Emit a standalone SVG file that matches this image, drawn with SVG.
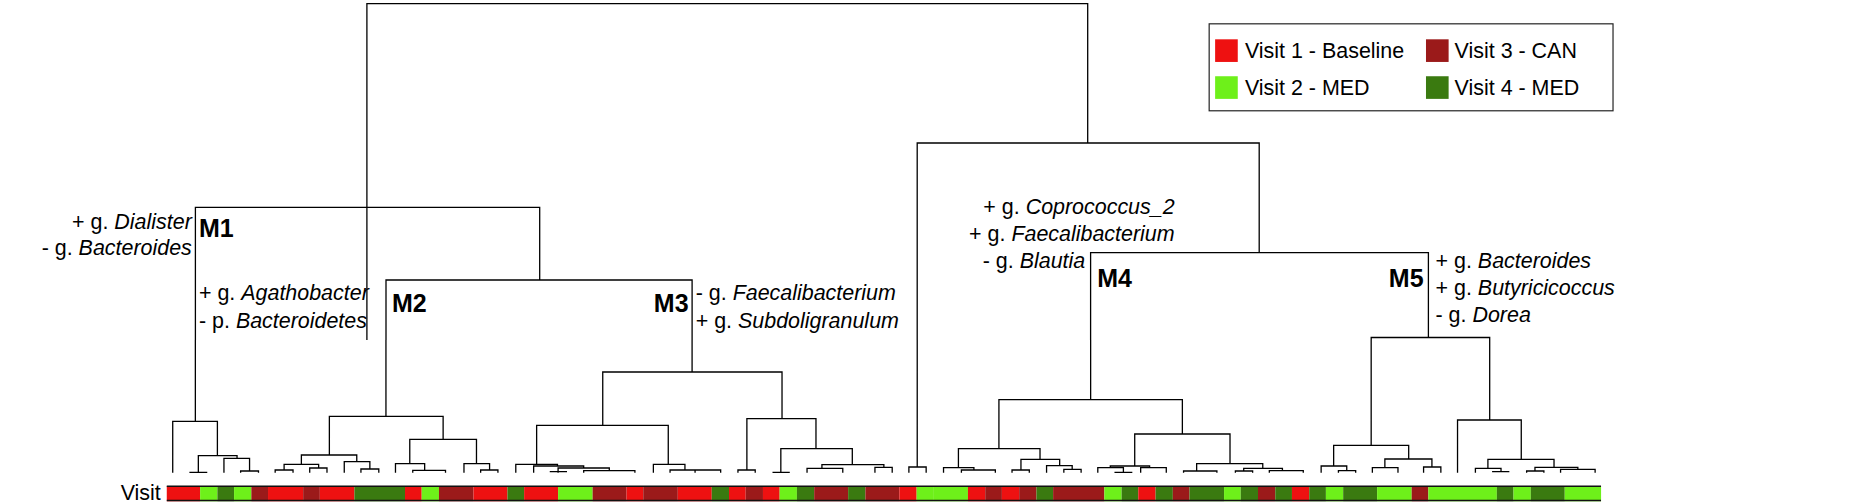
<svg xmlns="http://www.w3.org/2000/svg" width="1868" height="502" viewBox="0 0 1868 502">
<style>
.ln{fill:none;stroke:#000;stroke-width:1.3;vector-effect:non-scaling-stroke}
text{font-family:"Liberation Sans",Arial,sans-serif;fill:#000}
.lb{font-size:18px}
.m{font-size:21px;font-weight:bold}
.R{fill:#ee1111}.D{fill:#9b1a1a}.L{fill:#6ef01a}.G{fill:#3a7a10}
</style>
<rect width="1868" height="502" fill="#fff"/>
<g id="connectors">
<path class="ln" d="M366.9,340V3.6H1087.7V143 M917.2,340V143H1259.2V252.6 M1090.6,340V252.6H1428.4V337.5 M1371.2,340V337.5H1489.7V340 M366.9,3.6V207.3 M195.4,340V207.3H539.7V280 M386,340V280H692.1V340"/>
<g transform="translate(0,340) scale(0.5956,0.3333)">
<path class="ln" d="M328,0V244 M290,398V244H365V347 M333,398V347H398V355 M318,397H348 M376,398V355H419V393 M404,398V393H434V398
M648,0V229 M553,345V229H744V298 M506,373V345H599V365 M477,390V373H535V384 M462,398V390H492V398 M520,398V384H549V398 M578,398V365H621V387 M606,398V387H636V398
M688,371V298H800V371 M664,398V371H713V391 M693,398V391H748V398 M779,398V371H822V390 M807,398V390H836V398
M1162,0V96 M1012,256V96H1313V236 M901,373V256H1122V373 M866,398V373H936V378 M896,398V378H980V384 M937,398V384H1023V392 M923,395H952 M980,398V392H1066V398
M1097,398V373H1150V390 M1125,398V390H1210V398 M1167,390V398
M1254,390V236H1370V326 M1239,398V390H1268V398 M1311,398V326H1431V374 M1297,397H1326 M1380,385V374H1484V382 M1355,398V385H1415V398 M1469,398V382H1498V398
M1540,0V381 M1526,398V381H1555V398"/>
</g>
<g transform="translate(934,340) scale(0.5956,0.3333)">
<path class="ln" d="M263,0V179 M109,326V179H417V282 M41,383V326H178V358 M16,398V383H67V390 M46,398V390H103V398 M146,390V358H211V377 M131,398V390H160V398 M189,398V377H232V388 M218,398V388H247V398
M337,378V282H497V371 M296,383V378H362V383 M275,398V383H318V398 M303,397H333 M347,398V383H390V398
M441,393V371H552V385 M419,398V393H475V398 M520,393V385H585V392 M506,398V393H535V398 M563,398V392H620V398
M734,0V316 M671,378V316H797V357 M650,398V378H693V392 M679,398V392H708V398 M757,383V357H836V381 M736,398V383H779V398 M822,398V381H851V398
M933,0V240 M879,398V240H986V358 M930,385V358H1041V382 M909,398V385H952V395 M937,395H966 M1009,393V382H1081V388 M995,398V393H1024V398 M1052,398V388H1110V398"/>
</g>
</g>
<g id="visit-bar">
<g transform="translate(0,340) scale(0.5956,0.3333)">
<rect class="R" x="280" y="438" width="56" height="46"/><rect class="L" x="336" y="438" width="29" height="46"/><rect class="G" x="365" y="438" width="28" height="46"/><rect class="L" x="393" y="438" width="29" height="46"/><rect class="D" x="422" y="438" width="28" height="46"/><rect class="R" x="450" y="438" width="59" height="46"/><rect class="D" x="509" y="438" width="28" height="46"/><rect class="R" x="537" y="438" width="58" height="46"/><rect class="G" x="595" y="438" width="85" height="46"/><rect class="R" x="680" y="438" width="28" height="46"/><rect class="L" x="708" y="438" width="29" height="46"/><rect class="D" x="737" y="438" width="58" height="46"/><rect class="R" x="795" y="438" width="57" height="46"/><rect class="G" x="852" y="438" width="28" height="46"/><rect class="R" x="880" y="438" width="57" height="46"/><rect class="L" x="937" y="438" width="58" height="46"/><rect class="D" x="995" y="438" width="57" height="46"/><rect class="R" x="1052" y="438" width="28" height="46"/><rect class="D" x="1080" y="438" width="58" height="46"/><rect class="R" x="1138" y="438" width="57" height="46"/><rect class="G" x="1195" y="438" width="29" height="46"/><rect class="R" x="1224" y="438" width="28" height="46"/><rect class="D" x="1252" y="438" width="29" height="46"/><rect class="R" x="1281" y="438" width="28" height="46"/><rect class="L" x="1309" y="438" width="29" height="46"/><rect class="G" x="1338" y="438" width="29" height="46"/><rect class="D" x="1367" y="438" width="57" height="46"/><rect class="G" x="1424" y="438" width="29" height="46"/><rect class="D" x="1453" y="438" width="57" height="46"/><rect class="R" x="1510" y="438" width="29" height="46"/><rect class="L" x="1539" y="438" width="29" height="46"/>
</g>
<g transform="translate(934,340) scale(0.5956,0.3333)">
<rect class="L" x="0" y="438" width="57" height="46"/><rect class="R" x="57" y="438" width="29" height="46"/><rect class="D" x="86" y="438" width="28" height="46"/><rect class="R" x="114" y="438" width="29" height="46"/><rect class="D" x="143" y="438" width="29" height="46"/><rect class="G" x="172" y="438" width="28" height="46"/><rect class="D" x="200" y="438" width="86" height="46"/><rect class="L" x="286" y="438" width="29" height="46"/><rect class="G" x="315" y="438" width="28" height="46"/><rect class="R" x="343" y="438" width="29" height="46"/><rect class="G" x="372" y="438" width="29" height="46"/><rect class="D" x="401" y="438" width="28" height="46"/><rect class="G" x="429" y="438" width="58" height="46"/><rect class="L" x="487" y="438" width="28" height="46"/><rect class="G" x="515" y="438" width="29" height="46"/><rect class="D" x="544" y="438" width="29" height="46"/><rect class="G" x="573" y="438" width="28" height="46"/><rect class="R" x="601" y="438" width="29" height="46"/><rect class="G" x="630" y="438" width="28" height="46"/><rect class="L" x="658" y="438" width="29" height="46"/><rect class="G" x="687" y="438" width="57" height="46"/><rect class="L" x="744" y="438" width="58" height="46"/><rect class="D" x="802" y="438" width="28" height="46"/><rect class="L" x="830" y="438" width="115" height="46"/><rect class="G" x="945" y="438" width="28" height="46"/><rect class="L" x="973" y="438" width="29" height="46"/><rect class="G" x="1002" y="438" width="57" height="46"/><rect class="L" x="1059" y="438" width="61" height="46"/>
</g>
<path d="M166.8,486.2H1601 M166.8,500.5H1601" stroke="#111" stroke-width="1.5"/>
</g>
<g transform="scale(1.1913)">
<g id="label-visit"><text class="lb" x="135" y="420" text-anchor="end">Visit</text></g>
<g id="M1"><text class="m" x="167" y="199">M1</text>
<text class="lb" x="161" y="192" text-anchor="end">+ g. <tspan font-style="italic">Dialister</tspan></text>
<text class="lb" x="161" y="214" text-anchor="end">- g. <tspan font-style="italic">Bacteroides</tspan></text></g>
<g id="M2"><text class="m" x="329" y="262">M2</text>
<text class="lb" x="167" y="252">+ g. <tspan font-style="italic">Agathobacter</tspan></text>
<text class="lb" x="167" y="275">- p. <tspan font-style="italic">Bacteroidetes</tspan></text></g>
<g id="M3"><text class="m" x="578" y="262" text-anchor="end">M3</text>
<text class="lb" x="584" y="252">- g. <tspan font-style="italic">Faecalibacterium</tspan></text>
<text class="lb" x="584" y="275">+ g. <tspan font-style="italic">Subdoligranulum</tspan></text></g>
<g id="M4"><text class="m" x="921" y="241">M4</text>
<text class="lb" x="986" y="180" text-anchor="end">+ g. <tspan font-style="italic">Coprococcus_2</tspan></text>
<text class="lb" x="986" y="202" text-anchor="end">+ g. <tspan font-style="italic">Faecalibacterium</tspan></text>
<text class="lb" x="911" y="225" text-anchor="end">- g. <tspan font-style="italic">Blautia</tspan></text></g>
<g id="M5"><text class="m" x="1195" y="241" text-anchor="end">M5</text>
<text class="lb" x="1205" y="225">+ g. <tspan font-style="italic">Bacteroides</tspan></text>
<text class="lb" x="1205" y="248">+ g. <tspan font-style="italic">Butyricicoccus</tspan></text>
<text class="lb" x="1205" y="270">- g. <tspan font-style="italic">Dorea</tspan></text></g>
<g id="legend">
<rect x="1015" y="20" width="339" height="73" fill="#fff" stroke="#222" stroke-width="1"/>
<rect class="R" x="1020" y="33" width="19" height="19"/><text class="lb" x="1045" y="49">Visit 1 - Baseline</text>
<rect class="D" x="1197" y="33" width="19" height="19"/><text class="lb" x="1221" y="49">Visit 3 - CAN</text>
<rect class="L" x="1020" y="64" width="19" height="19"/><text class="lb" x="1045" y="80">Visit 2 - MED</text>
<rect class="G" x="1197" y="64" width="19" height="19"/><text class="lb" x="1221" y="80">Visit 4 - MED</text>
</g>
</g>
</svg>
